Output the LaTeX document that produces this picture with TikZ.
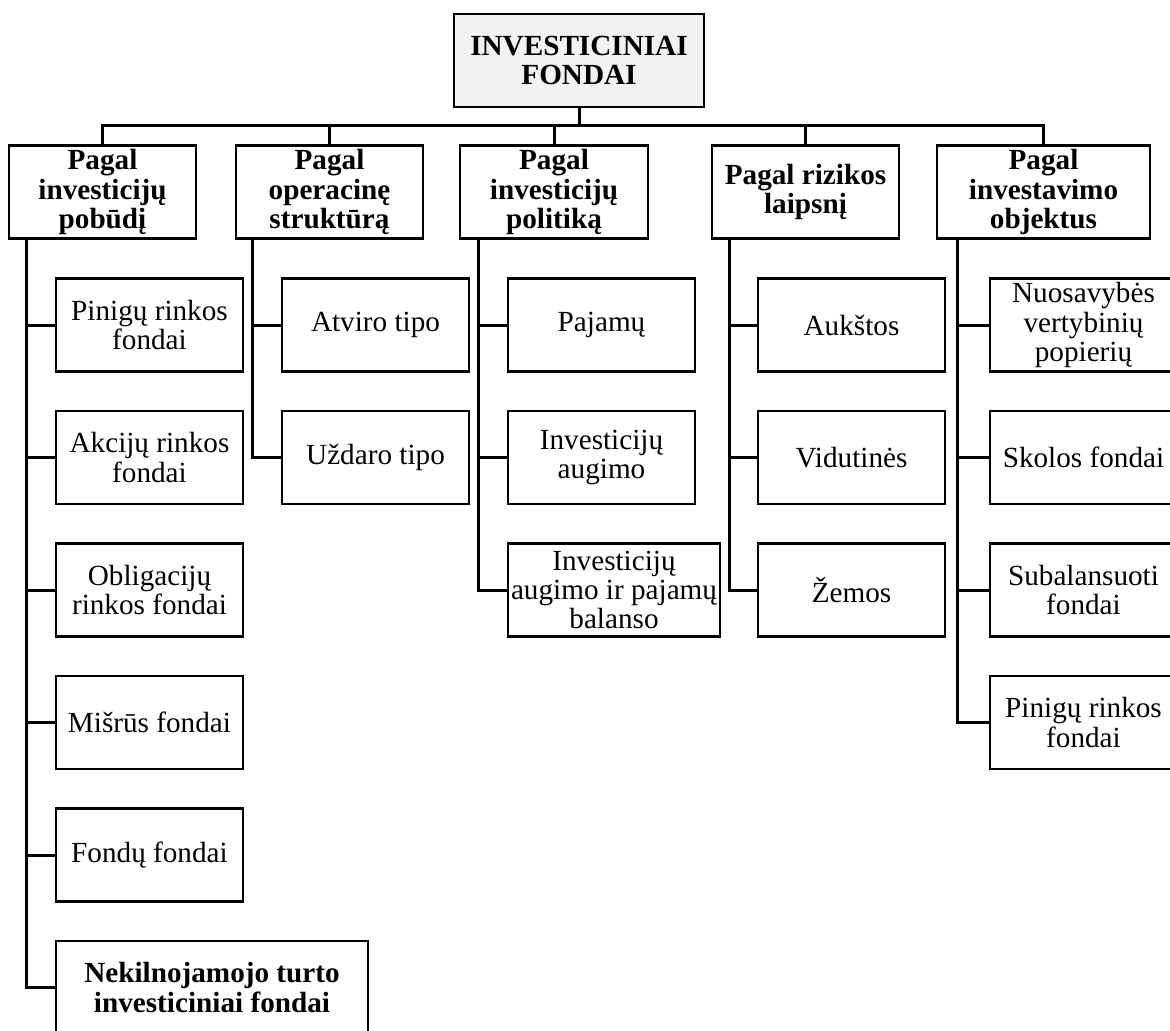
\documentclass[tikz,border=0pt]{standalone}
\usepackage{fontspec}
\setmainfont{Liberation Serif}

\begin{document}
\begin{tikzpicture}[x=0.5pt, y=-0.5pt,
    box/.style={draw, line width=1.4pt, minimum height=46.5pt, inner sep=0pt,
        align=center, font=\fontsize{14.6}{14.6}\selectfont},
    rootbox/.style={box, fill=gray!10, minimum width=125pt,
        font=\fontsize{14.6}{14.6}\selectfont\bfseries},
    groupbox/.style={box, font=\fontsize{14.6}{14.6}\selectfont\bfseries},
    itembox/.style={box, minimum width=93.5pt},
    link/.style={line width=1.5pt}]
    \useasboundingbox (0,0) rectangle (1170,1030);

    % Draw root
    \node[rootbox] (root) at (579,60.5) {INVESTICINIAI\\FONDAI};

    % Draw groups
    \node[groupbox, minimum width=93.5pt] (pob) at (102.5,192) {Pagal\\investicijų\\pobūdį};
    \node[groupbox, minimum width=93.5pt] (op) at (329.5,192) {Pagal\\operacinę\\struktūrą};
    \node[groupbox, minimum width=94pt] (pol) at (554,192) {Pagal\\investicijų\\politiką};
    \node[groupbox, minimum width=93.5pt] (riz) at (805.5,192) {Pagal rizikos\\laipsnį};
    \node[groupbox, minimum width=106.5pt] (obj) at (1043.5,192) {Pagal\\investavimo\\objektus};

    % Draw bus from root to groups
    \coordinate (bus) at (579,125.5);
    \draw[link] (root.south) -- (bus);
    \draw[link] (pob.north) |- (bus) -| (obj.north);
    \foreach \g in {op,pol,riz}
        \draw[link] (\g.north) -- (\g.north |- bus);

    % Draw items of each group
    \foreach \t [count=\i] in {{Pinigų rinkos\\fondai}, {Akcijų rinkos\\fondai},
            {Obligacijų\\rinkos fondai}, {Mišrūs fondai}, {Fondų fondai}}
        \node[itembox] (pob\i) at (149.5,{325+132.5*(\i-1)}) {\t};
    \node[box, minimum width=156pt, font=\fontsize{14.6}{14.6}\selectfont\bfseries]
        (pob6) at (212,987.5) {Nekilnojamojo turto\\investiciniai fondai};

    \foreach \t [count=\i] in {{Atviro tipo}, {Uždaro tipo}}
        \node[itembox] (op\i) at (375.5,{325+132.5*(\i-1)}) {\t};

    \foreach \t [count=\i] in {{Pajamų}, {Investicijų\\augimo}}
        \node[itembox] (pol\i) at (601.5,{325+132.5*(\i-1)}) {\t};
    \node[box, minimum width=106pt] (pol3) at (614,590) {Investicijų\\augimo ir pajamų\\balanso};

    \foreach \t [count=\i] in {{Aukštos}, {Vidutinės}, {Žemos}}
        \node[itembox] (riz\i) at (851.5,{325+132.5*(\i-1)}) {\t};

    \foreach \t [count=\i] in {{Nuosavybės\\vertybinių\\popierių}, {Skolos fondai},
            {Subalansuoti\\fondai}, {Pinigų rinkos\\fondai}}
        \node[itembox] (obj\i) at (1083.5,{325+132.5*(\i-1)}) {\t};

    % Draw trunks
    \foreach \i in {1,...,6}
        \draw[link] ([xshift=9.5pt]pob.south west) |- (pob\i.west);
    \foreach \i in {1,2}
        \draw[link] ([xshift=9pt]op.south west) |- (op\i.west);
    \foreach \i in {1,...,3}
        \draw[link] ([xshift=10pt]pol.south west) |- (pol\i.west);
    \foreach \i in {1,...,3}
        \draw[link] ([xshift=9.5pt]riz.south west) |- (riz\i.west);
    \foreach \i in {1,...,4}
        \draw[link] ([xshift=11pt]obj.south west) |- (obj\i.west);
\end{tikzpicture}
\end{document}
